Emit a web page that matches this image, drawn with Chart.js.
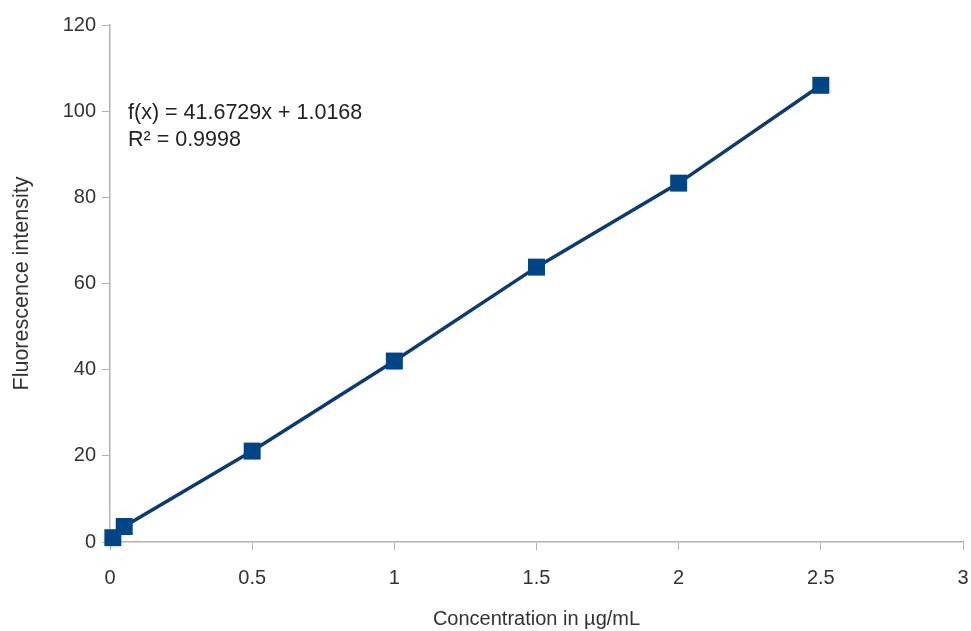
<!DOCTYPE html>
<html>
<head>
<meta charset="utf-8">
<script src="https://cdn.jsdelivr.net/npm/chart.js@4"></script>
<style>
  html, body { margin: 0; padding: 0; background: #fff; }
  #wrap { width: 971px; height: 631px; }
</style>
</head>
<body>
<div id="wrap"><canvas id="myChart" width="971" height="631"></canvas></div>
<script>
// values
const concentrations = [0.01, 0.05, 0.5, 1, 1.5, 2, 2.5];
const intensities = [1.0, 3.6, 21.1, 42.0, 63.8, 83.3, 106.0];
const equationLines = ['f(x) = 41.6729x + 1.0168', 'R² = 0.9998'];

const FONT = 'Liberation Sans, Arial, sans-serif';
const axisGrey = '#b3b3b3';

// trend-line equation drawn at the top left of the plot area
const equationPlugin = {
    id: 'equation',
    afterDraw(chart) {
        const ctx = chart.ctx;
        const area = chart.chartArea;
        ctx.save();
        ctx.fillStyle = '#222';
        ctx.font = '21.5px ' + FONT;
        ctx.textBaseline = 'middle';
        ctx.fillText(equationLines[0], area.left + 18, 113);
        ctx.fillText(equationLines[1], area.left + 18, 140);
        ctx.restore();
    }
};

var ctx = document.getElementById('myChart').getContext('2d');
var myChart = new Chart(ctx, {
    type: 'line',
    data: {
        datasets: [{
            data: concentrations.map((c, i) => ({ x: c, y: intensities[i] })),
            borderColor: '#0d3b6e',
            borderWidth: 3.5,
            backgroundColor: '#004586',
            pointStyle: 'rect',
            pointRadius: 12,
            pointBorderWidth: 0,
            pointBackgroundColor: '#004586',
            tension: 0,
            clip: false
        }]
    },
    options: {
        responsive: false,
        animation: false,
        layout: { autoPadding: false, padding: { top: 25, right: 8, left: 9, bottom: 0 } },
        plugins: {
            legend: { display: false },
            tooltip: { enabled: false }
        },
        scales: {
            x: {
                type: 'linear',
                min: 0,
                max: 3,
                afterFit(scale) {
                    scale.height = 89;
                    scale.paddingLeft = 0;
                    scale.paddingRight = 0;
                },
                ticks: {
                    stepSize: 0.5,
                    color: '#333',
                    padding: 16,
                    font: { family: FONT, size: 20 },
                    callback: v => String(v)
                },
                grid: { drawOnChartArea: false, tickLength: 8, color: axisGrey },
                border: { color: axisGrey, width: 1.5 },
                title: {
                    display: true,
                    text: 'Concentration in µg/mL',
                    color: '#333',
                    font: { family: FONT, size: 20 },
                    padding: { top: 4, bottom: 0 }
                }
            },
            y: {
                min: 0,
                max: 120,
                afterFit(scale) { scale.width = 101; },
                ticks: {
                    stepSize: 20,
                    color: '#333',
                    padding: 6,
                    font: { family: FONT, size: 20 }
                },
                grid: { drawOnChartArea: false, tickLength: 8, color: axisGrey },
                border: { color: axisGrey, width: 1.5 },
                title: {
                    display: true,
                    text: 'Fluorescence intensity',
                    color: '#333',
                    font: { family: FONT, size: 21.5 },
                    padding: { top: 0, bottom: 0 }
                }
            }
        }
    },
    plugins: [equationPlugin]
});
</script>
</body>
</html>
